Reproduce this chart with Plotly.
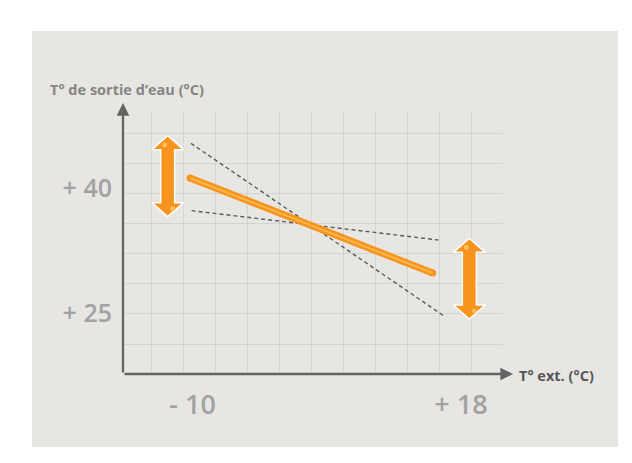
import plotly.graph_objects as go

# ---------------- data ----------------
x_tick_vals = [-10, 18]
x_tick_text = ["- 10", "+ 18"]
y_tick_vals = [25, 40]
y_tick_text = ["+ 25", "+ 40"]

# heating curve (orange line)
curve_x = [-10.26, 15.05]
curve_y = [41.2, 29.8]

# dashed extreme curves
steep_x = [-10.16, 16.33]
steep_y = [45.36, 24.56]
flat_x = [-10.09, 15.63]
flat_y = [37.28, 33.76]

# double arrows: centre x, top y, bottom y
arrows_cx = [-12.59, 18.87]
arrows_top = [46.28, 33.96]
arrows_bot = [36.56, 24.28]

y_title = "T° de sortie d’eau (°C)"
x_title = "T° ext. (°C)"

# ---------------- layout geometry ----------------
OFF = 8  # page body margin: figure pixel = screen pixel - OFF
WIDTH, HEIGHT = 632 - OFF, 463 - OFF
# plot area in screen pixels
SX0, SX1, SY0, SY1 = 123, 503, 113, 374
ML, MT = SX0 - OFF, SY0 - OFF
MR = WIDTH - (SX1 - OFF)
MB = HEIGHT - (SY1 - OFF)
PW = SX1 - SX0
PH = SY1 - SY0
X_RANGE = [-17.25, 22.38]
Y_RANGE = [17.68, 49.0]
PXX = PW / (X_RANGE[1] - X_RANGE[0])   # px per x unit
PXY = PH / (Y_RANGE[1] - Y_RANGE[0])   # px per y unit

def sx(px):
    """screen x pixel -> paper x"""
    return (px - SX0) / PW

def sy(py):
    """screen y pixel -> paper y"""
    return (SY1 - py) / PH

ORANGE = "#f7941d"
ORANGE_LIGHT = "#fdb54a"
PANEL = "#e7e6e3"
GRID = "rgba(0,0,0,0.075)"
AXIS = "#636363"
TICK = "#a2a2a2"
FONT = "Open Sans"

fig = go.Figure()

# dashed lines
for xs, ys in [(steep_x, steep_y), (flat_x, flat_y)]:
    fig.add_trace(go.Scatter(x=xs, y=ys, mode="lines",
                             line=dict(color="#5a5a5a", width=1.4, dash="4px,3px"),
                             hoverinfo="skip", showlegend=False))

# orange curve (tube look)
fig.add_trace(go.Scatter(x=curve_x, y=curve_y, mode="lines+markers",
                         line=dict(color=ORANGE, width=7),
                         marker=dict(size=7, color=ORANGE, line=dict(width=0)),
                         hoverinfo="skip", showlegend=False))
fig.add_trace(go.Scatter(x=curve_x, y=curve_y, mode="lines",
                         line=dict(color=ORANGE_LIGHT, width=2),
                         hoverinfo="skip", showlegend=False))

# double-headed arrows
SHAFT_HW = 7.0   # px
HEAD_HW = 16.0   # px
HEAD_LEN = 14.0  # px
for cx, yt, yb in zip(arrows_cx, arrows_top, arrows_bot):
    sw = SHAFT_HW / PXX
    hw = HEAD_HW / PXX
    hl = HEAD_LEN / PXY
    px = [cx, cx + hw, cx + sw, cx + sw, cx + hw, cx, cx - hw, cx - sw, cx - sw, cx - hw, cx]
    py = [yt, yt - hl, yt - hl, yb + hl, yb + hl, yb, yb + hl, yb + hl, yt - hl, yt - hl, yt]
    fig.add_trace(go.Scatter(x=px, y=py, mode="lines", fill="toself",
                             fillcolor=ORANGE, line=dict(color="white", width=1.5),
                             hoverinfo="skip", showlegend=False))
    # small highlights near the tips
    fig.add_trace(go.Scatter(x=[cx - 3 / PXX, cx + 5 / PXX],
                             y=[yt - 9 / PXY, yb + 8 / PXY],
                             mode="markers",
                             marker=dict(size=5, color="#fcc25e", opacity=0.9, line=dict(width=0)),
                             hoverinfo="skip", showlegend=False))

# grid spacing (px) converted to axis units
GX_PX, GY_PX = 31.98, 30.1
gx_dtick = GX_PX / PXX
gy_dtick = GY_PX / PXY
gx_tick0 = X_RANGE[0] + (151.7 - SX0) / PXX
gy_tick0 = Y_RANGE[0] + (SY1 - 344.0) / PXY

fig.update_layout(
    width=WIDTH, height=HEIGHT, autosize=False,
    margin=dict(l=ML, r=MR, t=MT, b=MB, pad=0),
    paper_bgcolor="white", plot_bgcolor=PANEL,
    font=dict(family=FONT),
    showlegend=False,
    xaxis=dict(range=X_RANGE, tickmode="array", tickvals=x_tick_vals, ticktext=x_tick_text,
               showgrid=False, zeroline=False, showline=False, ticks="",
               ticklabelstandoff=12,
               tickfont=dict(family=FONT, size=27, color=TICK, weight=600),
               minor=dict(tickmode="linear", tick0=gx_tick0, dtick=gx_dtick, showgrid=True,
                          gridcolor=GRID, gridwidth=1, ticks=""),
               fixedrange=True),
    yaxis=dict(range=Y_RANGE, tickmode="array", tickvals=y_tick_vals, ticktext=y_tick_text,
               showgrid=False, zeroline=False, showline=False, ticks="",
               ticklabelstandoff=10,
               tickfont=dict(family=FONT, size=25, color=TICK, weight=600),
               minor=dict(tickmode="linear", tick0=gy_tick0, dtick=gy_dtick, showgrid=True,
                          gridcolor=GRID, gridwidth=1, ticks=""),
               fixedrange=True),
)

# background panel
fig.add_shape(type="rect", xref="paper", yref="paper", layer="below",
              x0=sx(32), x1=sx(618), y0=sy(31), y1=sy(447),
              fillcolor=PANEL, line=dict(width=0))

# axes with arrowheads
fig.add_annotation(xref="paper", yref="paper", x=0, y=sy(103), text="",
                   showarrow=True, arrowhead=2, arrowsize=1.1, arrowwidth=2.3, arrowcolor=AXIS,
                   ax=0, ay=SY1 - 103, standoff=0, startstandoff=0)
fig.add_annotation(xref="paper", yref="paper", x=sx(513), y=0, text="",
                   showarrow=True, arrowhead=2, arrowsize=1.1, arrowwidth=2.3, arrowcolor=AXIS,
                   ax=-(513 - SX0), ay=0, standoff=0, startstandoff=0)

# axis titles
fig.add_annotation(xref="paper", yref="paper", x=sx(127), y=sy(90),
                   text=y_title, showarrow=False, xanchor="center", yanchor="middle",
                   font=dict(family=FONT, size=14.5, color="#858585", weight=700))
fig.add_annotation(xref="paper", yref="paper", x=sx(517), y=sy(375),
                   text=x_title, showarrow=False, xanchor="left", yanchor="middle",
                   font=dict(family=FONT, size=14.5, color="#575757", weight=700))

fig.write_html("out.html")
